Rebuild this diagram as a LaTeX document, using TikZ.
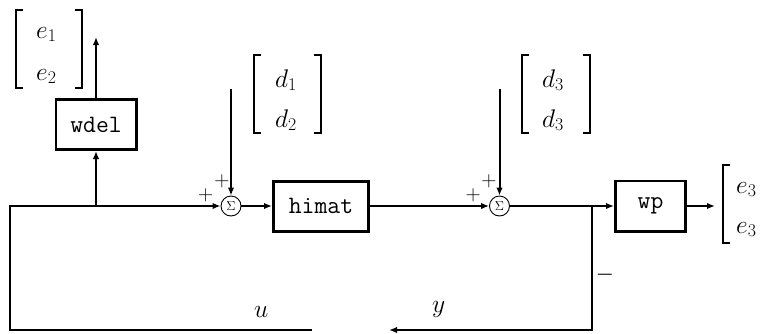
\RequirePackage{fix-cm}
\documentclass[tikz,border=0pt]{standalone}
\usetikzlibrary{arrows.meta}
\begin{document}
\begin{tikzpicture}[x=1pt,y=-1pt,
  line/.style={line width=2pt},
  arr/.style={line width=2pt,-{Latex[length=8pt,width=6.5pt]}},
  blk/.style={draw,line width=2.6pt,font=\fontsize{25}{30}\selectfont\ttfamily,inner sep=0pt,minimum height=50.4pt},
  sumn/.style={draw,circle,line width=0.9pt,minimum size=20pt,inner sep=0pt,font=\fontsize{13}{14}\selectfont},
  sgn/.style={font=\fontsize{21}{21}\selectfont,inner sep=0pt},
  lbl/.style={font=\fontsize{25.5}{30}\selectfont,inner sep=0pt,anchor=base west},
  brk/.style={line width=1.8pt}]
\useasboundingbox (0,0) rectangle (782,333);

% blocks
\node[blk, minimum width=80.4pt] (wdel) at (96,124.5) {wdel};
\node[blk, line width=3pt, minimum width=95pt, minimum height=50pt] (himat) at (321,206) {himat};
\node[blk, minimum width=70.4pt] (wp) at (650.5,206) {wp};

% summing junctions
\node[sumn] (s1) at (231,206) {$\Sigma$};
\node[sumn] (s2) at (499.5,206) {$\Sigma$};

% signs
\node[sgn] (p1) at (205.7,195) {+};
\node[sgn] (p2) at (222,181.5) {+};
\node[sgn] (p3) at (473.3,195) {+};
\node[sgn] (p4) at (489,181.5) {+};
\node[sgn, font=\fontsize{19}{19}\selectfont\bfseries] (mn) at (605,277) {\char"2212};

% coordinates
\coordinate (L) at (10,206);
\coordinate (B) at (96,206);
\coordinate (J) at (592,206);
\coordinate (BL) at (10,330);
\coordinate (BR) at (592,330);
\coordinate (gapL) at (312,330);
\coordinate (gapR) at (389,330);
\coordinate (E12) at (96,37);
\coordinate (D12) at (231,89);
\coordinate (D3) at (499.5,89);
\coordinate (E3) at (715,206);

% connectors
\draw[arr] (gapL) -- (BL) -- (L) -- (s1.west);
\draw[arr] (B) -- (wdel.south);
\draw[arr] (wdel.north) -- (E12);
\draw[arr] (D12) -- (s1.north);
\draw[arr] (s1.east) -- (himat.west);
\draw[arr] (himat.east) -- (s2.west);
\draw[arr] (D3) -- (s2.north);
\draw[arr] (s2.east) -- (wp.west);
\draw[arr] (wp.east) -- (E3);
\draw[arr] (J) -- (BR) -- (gapR);

% brackets
\draw[brk] (23,10) -- (16,10) -- (16,88) -- (23,88);
\draw[brk] (75,10) -- (82,10) -- (82,88) -- (75,88);
\draw[brk] (261,55) -- (254,55) -- (254,133) -- (261,133);
\draw[brk] (314,55) -- (321,55) -- (321,133) -- (314,133);
\draw[brk] (529,55) -- (522,55) -- (522,133) -- (529,133);
\draw[brk] (583,55) -- (590,55) -- (590,133) -- (583,133);
\draw[brk] (730,165) -- (723,165) -- (723,243) -- (730,243);

% labels
\node[lbl] (e1) at (36,38) {$e_1$};
\node[lbl] (e2) at (36,80) {$e_2$};
\node[lbl] (d1) at (275,87) {$d_1$};
\node[lbl] (d2) at (275,127) {$d_2$};
\node[lbl] (d3a) at (542,87) {$d_3$};
\node[lbl] (d3b) at (542,127) {$d_3$};
\node[lbl] (e3a) at (736,193) {$e_3$};
\node[lbl] (e3b) at (736,233) {$e_3$};
\node[lbl] (u) at (254,317) {$u$};
\node[lbl] (y) at (432,312) {$y$};
\end{tikzpicture}
\end{document}
